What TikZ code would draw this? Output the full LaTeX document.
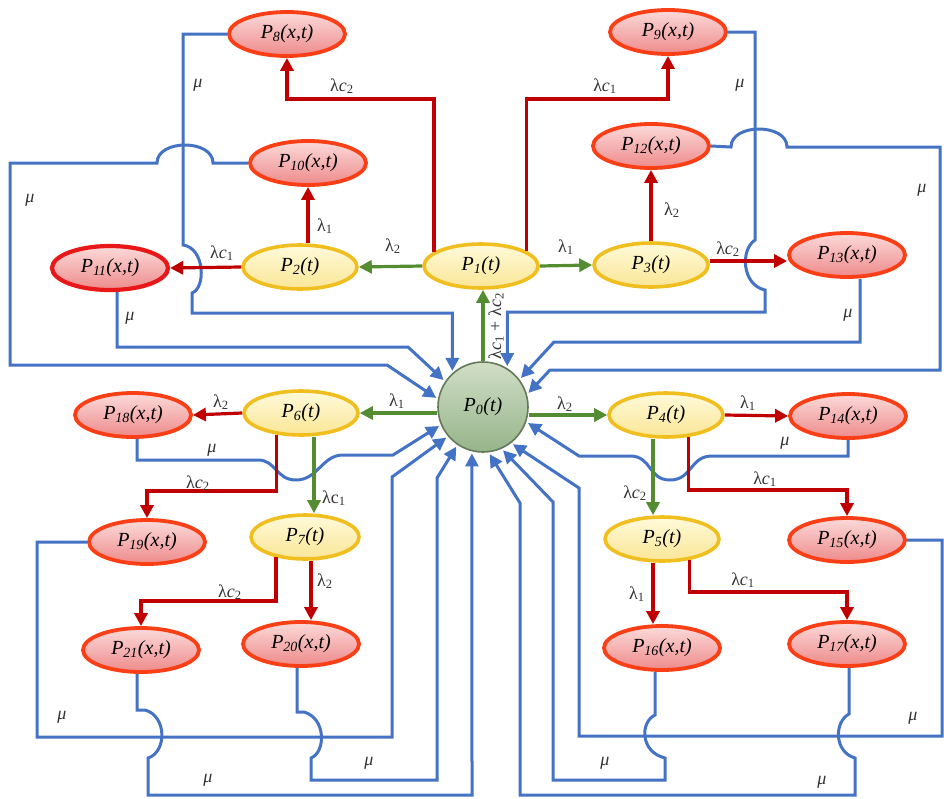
\documentclass[tikz,border=0pt]{standalone}
\usepackage{fontspec}
\setmainfont{Liberation Serif}
\usetikzlibrary{shapes.geometric,arrows.meta}
\definecolor{bluL}{RGB}{68,114,196}
\definecolor{redL}{RGB}{192,0,0}
\definecolor{grnL}{RGB}{84,140,50}
\definecolor{redB}{RGB}{250,62,22}
\definecolor{redB2}{RGB}{232,24,24}
\definecolor{pinkT}{RGB}{252,218,218}
\definecolor{pinkB}{RGB}{238,138,138}
\definecolor{yelB}{RGB}{240,190,30}
\definecolor{yelT}{RGB}{255,250,218}
\definecolor{yelBot}{RGB}{250,230,150}
\definecolor{grT}{RGB}{208,222,198}
\definecolor{grB}{RGB}{150,180,138}
\definecolor{grD}{RGB}{100,120,90}
\newcommand\pxt[1]{\textit{P\textsubscript{#1}(x,t)}}
\newcommand\ptt[1]{\textit{P\textsubscript{#1}(t)}}
\newcommand\lamc[1]{λ\textit{c}\textsubscript{#1}}
\newcommand\lamb[1]{λ\textsubscript{#1}}
\begin{document}
\begin{tikzpicture}[x=1pt,y=-1pt,
  rnode/.style={ellipse, draw=redB, line width=3.8pt, top color=pinkT, bottom color=pinkB,
    minimum width=116pt, minimum height=44pt, inner sep=0pt, font=\fontsize{20}{22}\selectfont},
  ynode/.style={ellipse, draw=yelB, line width=3.6pt, top color=yelT, bottom color=yelBot,
    minimum width=114pt, minimum height=44pt, inner sep=0pt, font=\fontsize{20}{22}\selectfont},
  znode/.style={circle, draw=grD, line width=1.6pt, top color=grT, bottom color=grB,
    minimum size=90pt, inner sep=0pt, font=\fontsize{20}{22}\selectfont},
  lab/.style={inner sep=1pt, text=black!80, font=\fontsize{18}{20}\selectfont},
  mu/.style={inner sep=1pt, text=black!80, font=\fontsize{18}{20}\selectfont\itshape},
  tip/.style={-{Triangle[length=13pt,width=13pt]}},
  rarr/.style={tip, draw=redL, line width=3.2pt},
  garr/.style={tip, draw=grnL, line width=3.2pt},
  barr/.style={tip, draw=bluL, line width=3pt, shorten >=2pt}]
\useasboundingbox (0,0) rectangle (944,798);
% ---------- nodes
\node[znode] (P0) at (483,407) {\ptt{0}};
\node[ynode] (P1) at (481,266) {\ptt{1}};
\node[ynode] (P2) at (300,267) {\ptt{2}};
\node[ynode] (P3) at (651,265) {\ptt{3}};
\node[ynode] (P4) at (666,415) {\ptt{4}};
\node[ynode] (P5) at (662,539) {\ptt{5}};
\node[ynode] (P6) at (301,413) {\ptt{6}};
\node[ynode, minimum width=108pt] (P7) at (305,537) {\ptt{7}};
\node[rnode] (P8) at (287,34) {\pxt{8}};
\node[rnode] (P9) at (668,32) {\pxt{9}};
\node[rnode] (P10) at (308,163) {\pxt{10}};
\node[rnode, draw=redB2, line width=4.2pt] (P11) at (110,268) {\pxt{11}};
\node[rnode] (P12) at (651,146) {\pxt{12}};
\node[rnode] (P13) at (847,255) {\pxt{13}};
\node[rnode] (P14) at (848,416) {\pxt{14}};
\node[rnode] (P15) at (847,540) {\pxt{15}};
\node[rnode] (P16) at (662,648) {\pxt{16}};
\node[rnode] (P17) at (847,644) {\pxt{17}};
\node[rnode] (P18) at (133,415) {\pxt{18}};
\node[rnode] (P19) at (147,542) {\pxt{19}};
\node[rnode] (P20) at (301,644) {\pxt{20}};
\node[rnode] (P21) at (141,650) {\pxt{21}};
% ---------- blue return connectors (mu)
\draw[barr] (P8.west) -| (183,245) .. controls (205,248) and (206,288) .. (192,293) |- (P0.132 |- 0,313) -- (P0.132);
\draw[barr] (P10.west) -- (213,163) .. controls (213,139) and (157,139) .. (157,163) -- (10,163) |- (387,365) -- (P0.170);
\draw[barr] ([xshift=7pt]P11.south) |- (408,347) -- (P0.146);
\draw[barr] (P9.east) -| (755,240) .. controls (740,250) and (742,285) .. (765,290) |- (P0.58 |- 0,312) -- (P0.58);
\draw[barr] (P12.east) -- (731,147) .. controls (731,123) and (787,123) .. (787,147) -- (940,147) |- (550,370) -- (P0.16);
\draw[barr] ([xshift=13pt]P13.south) |- (554,342) -- (P0.37);
\draw[barr] (P14.south) |- (712,456) .. controls (690,456) and (692,480) .. (670,480) .. controls (648,480) and (652,456) .. (630,456) -- (579,456) -- (P0.341);
\draw[barr] (P15.east) -| (942,736) -- (579,736) -- (579,488) -- (P0.308);
\draw[barr] ([xshift=-7pt]P16.south) -- (655,715) .. controls (640,722) and (640,752) .. (665,758) |- (553,780) -- (553,502) -- (P0.294);
\draw[barr] ([xshift=2pt]P17.south) -- (849,714) .. controls (834,722) and (834,752) .. (855,758) |- (520,795) -- (520,503) -- (P0.277);
\draw[barr] ([xshift=4pt]P18.south) |- (258,460) .. controls (276,460) and (276,480) .. (296,480) .. controls (318,480) and (322,455) .. (343,455) -- (393,455) -- (P0.203);
\draw[barr] (P19.west) -| (37,737) -- (392,737) -- (392,477) -- (P0.220);
\draw[barr] ([xshift=-4pt]P20.south) -- (297,712) -- (304,712) .. controls (326,718) and (326,752) .. (311,758) |- (437,780) -- (437,478) -- (P0.236);
\draw[barr] ([xshift=-4pt]P21.south) -- (137,710) -- (145,710) .. controls (167,716) and (167,752) .. (148,758) |- (472,795) -- (P0.256);
% ---------- green connectors
\draw[garr] (P1.west) -- (P2.east);
\draw[garr] (P1.east) -- (P3.west);
\draw[garr] (P0.north) -- (P0.north |- P1.south);
\draw[garr] (P0.west |- P6.east) -- (P6.east);
\draw[garr] (P0.east |- P4.west) -- (P4.west);
\draw[garr] ([xshift=13pt]P6.south) -- ([xshift=13pt]P6.south |- P7.north);
\draw[garr] ([xshift=-13pt]P4.south) -- ([xshift=-13pt]P4.south |- P5.north);
% ---------- red connectors
\draw[rarr] (P1.163) |- (P8.south |- 0,99) -- (P8.south);
\draw[rarr] (P1.18) |- (P9.south |- 0,99) -- (P9.south);
\draw[rarr] (P10.south |- P2.north) -- (P10.south);
\draw[rarr] (P2.west) -- (P11.east);
\draw[rarr] (P12.south |- P3.north) -- (P12.south);
\draw[rarr] (P3.east |- 0,261) -- (P13.west |- 0,261);
\draw[rarr] (P6.west) -- (P18.east);
\draw[rarr] (P6.222) |- (P19.north |- 0,491) -- (P19.north);
\draw[rarr] ([xshift=6pt]P7.south) -- ([xshift=6pt]P7.south |- P20.north);
\draw[rarr] (P7.215) |- (P21.north |- 0,601) -- (P21.north);
\draw[rarr] (P4.east) -- (P14.west);
\draw[rarr] (P4.-44) |- (P15.north |- 0,490) -- (P15.north);
\draw[rarr] ([xshift=-9pt]P5.south) -- ([xshift=-9pt]P5.south |- P16.north);
\draw[rarr] (P5.-37) |- (P17.north |- 0,592) -- (P17.north);
% ---------- labels
\node[lab] (l1) at (342,86) {\lamc{2}};
\node[lab] (l2) at (605,86) {\lamc{1}};
\node[lab] (l3) at (325,226) {\lamb{1}};
\node[lab] (l4) at (222,253) {\lamc{1}};
\node[lab] (l5) at (393,246) {\lamb{2}};
\node[lab] (l6) at (566,247) {\lamb{1}};
\node[lab] (l7) at (672,210) {\lamb{2}};
\node[lab] (l8) at (728,249) {\lamc{2}};
\node[lab, rotate=90] (l9) at (496,326) {\lamc{1} + \lamc{2}};
\node[lab] (l10) at (221,402) {\lamb{2}};
\node[lab] (l11) at (397,401) {\lamb{1}};
\node[lab] (l12) at (565,404) {\lamb{2}};
\node[lab] (l13) at (748,403) {\lamb{1}};
\node[lab] (l14) at (198,483) {\lamc{2}};
\node[lab] (l15) at (334,498) {λc\textsubscript{1}};
\node[lab] (l16) at (230,592) {\lamc{2}};
\node[lab] (l17) at (325,581) {\lamb{2}};
\node[lab] (l18) at (765,479) {\lamc{1}};
\node[lab] (l19) at (635,493) {\lamc{2}};
\node[lab] (l20) at (637,594) {\lamb{1}};
\node[lab] (l21) at (743,580) {\lamc{1}};
% mu labels
\node[mu] (m1) at (198,85) {μ};
\node[mu] (m2) at (30,200) {μ};
\node[mu] (m3) at (130,318) {μ};
\node[mu] (m4) at (740,85) {μ};
\node[mu] (m5) at (922,190) {μ};
\node[mu] (m6) at (848,315) {μ};
\node[mu] (m7) at (785,443) {μ};
\node[mu] (m8) at (913,718) {μ};
\node[mu] (m9) at (605,763) {μ};
\node[mu] (m10) at (822,782) {μ};
\node[mu] (m11) at (212,450) {μ};
\node[mu] (m12) at (62,717) {μ};
\node[mu] (m13) at (369,763) {μ};
\node[mu] (m14) at (208,780) {μ};
\end{tikzpicture}
\end{document}
